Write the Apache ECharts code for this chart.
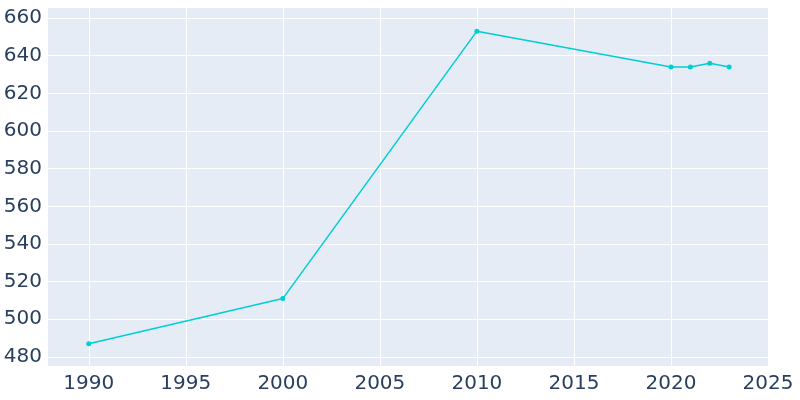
<!DOCTYPE html><html><head><meta charset="utf-8">
<script src="https://cdn.jsdelivr.net/npm/echarts@6/dist/echarts.min.js"></script>
<style>html,body{margin:0;padding:0;background:#fff}#c{width:800px;height:400px}</style></head>
<body><div id="c"></div><script>
const years=[1990,2000,2010,2020,2021,2022,2023];
const population=[487,511,653,634,634,636,634];
const xTicks=[1990,1995,2000,2005,2010,2015,2020,2025];
const yTicks=[480,500,520,540,560,580,600,620,640,660];
const chart=echarts.init(document.getElementById('c'));
const lab={color:'#2a3f5f',fontSize:20,fontFamily:'DejaVu Sans'};
chart.setOption({
 animation:false,
 grid:{left:48,right:32,top:8,bottom:34,show:true,backgroundColor:'#E5ECF6',borderWidth:0},
 xAxis:{type:'value',min:1987.9,max:2025,
  axisLine:{show:false},axisTick:{show:false,customValues:xTicks},
  axisLabel:Object.assign({customValues:xTicks,margin:8,formatter:v=>String(v)},lab),
  splitLine:{show:true,lineStyle:{color:'#fff',width:1}}},
 yAxis:{type:'value',min:475.2,max:665.3,
  axisLine:{show:false},axisTick:{show:false,customValues:yTicks},
  axisLabel:Object.assign({customValues:yTicks,margin:6,formatter:v=>String(v)},lab),
  splitLine:{show:true,lineStyle:{color:'#fff',width:1}}},
 series:[{type:'line',data:years.map((y,i)=>[y,population[i]]),
  itemStyle:{color:'#00CED1'},lineStyle:{color:'#00CED1',width:1.5},
  symbol:'circle',symbolSize:5}]
});
</script></body></html>
